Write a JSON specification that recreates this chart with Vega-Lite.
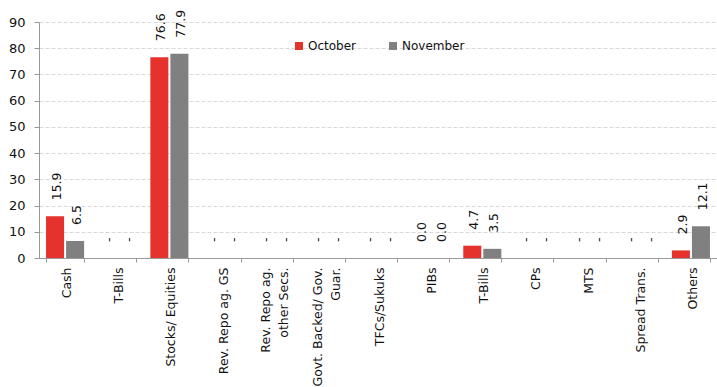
{
  "$schema": "https://vega.github.io/schema/vega-lite/v6.json",
  "width": 678,
  "height": 236,
  "autosize": {"type": "none"},
  "padding": {"left": 39, "top": 22, "right": 0, "bottom": 129},
  "background": "white",
  "data": {
    "values": [
      {"cat": "Cash", "series": "October", "value": 15.9, "label": "15.9"},
      {"cat": "Cash", "series": "November", "value": 6.5, "label": "6.5"},
      {"cat": "T-Bills", "series": "October", "value": 0, "label": "-"},
      {"cat": "T-Bills", "series": "November", "value": 0, "label": "-"},
      {"cat": "Stocks/ Equities", "series": "October", "value": 76.6, "label": "76.6"},
      {"cat": "Stocks/ Equities", "series": "November", "value": 77.9, "label": "77.9"},
      {"cat": "Rev. Repo ag. GS", "series": "October", "value": 0, "label": "-"},
      {"cat": "Rev. Repo ag. GS", "series": "November", "value": 0, "label": "-"},
      {"cat": "Rev. Repo ag.|other Secs.", "series": "October", "value": 0, "label": "-"},
      {"cat": "Rev. Repo ag.|other Secs.", "series": "November", "value": 0, "label": "-"},
      {"cat": "Govt. Backed/ Gov.|Guar.", "series": "October", "value": 0, "label": "-"},
      {"cat": "Govt. Backed/ Gov.|Guar.", "series": "November", "value": 0, "label": "-"},
      {"cat": "TFCs/Sukuks", "series": "October", "value": 0, "label": "-"},
      {"cat": "TFCs/Sukuks", "series": "November", "value": 0, "label": "-"},
      {"cat": "PIBs", "series": "October", "value": 0, "label": "0.0"},
      {"cat": "PIBs", "series": "November", "value": 0, "label": "0.0"},
      {"cat": "T-Bills ", "series": "October", "value": 4.7, "label": "4.7"},
      {"cat": "T-Bills ", "series": "November", "value": 3.5, "label": "3.5"},
      {"cat": "CPs", "series": "October", "value": 0, "label": "-"},
      {"cat": "CPs", "series": "November", "value": 0, "label": "-"},
      {"cat": "MTS", "series": "October", "value": 0, "label": "-"},
      {"cat": "MTS", "series": "November", "value": 0, "label": "-"},
      {"cat": "Spread Trans.", "series": "October", "value": 0, "label": "-"},
      {"cat": "Spread Trans.", "series": "November", "value": 0, "label": "-"},
      {"cat": "Others", "series": "October", "value": 2.9, "label": "2.9"},
      {"cat": "Others", "series": "November", "value": 12.1, "label": "12.1"}
    ]
  },
  "encoding": {
    "x": {
      "field": "cat",
      "type": "nominal",
      "sort": null,
      "scale": {"paddingInner": 0.27, "paddingOuter": 0.135},
      "axis": {
        "title": null,
        "labelAngle": 270,
        "labelAlign": "right",
        "labelBaseline": "middle",
        "labelExpr": "split(trim(datum.label), '|')",
        "labelLineHeight": 18,
        "labelOffset": {"condition": {"test": "indexof(datum.label, '|') >= 0", "value": -8}, "value": 1.5},
        "labelFont": "DejaVu Sans",
        "labelFontSize": 12.5,
        "labelColor": "#111111",
        "labelPadding": 5,
        "tickBand": "extent",
        "tickSize": 4,
        "tickColor": "#999999",
        "domainColor": "#999999",
        "grid": false
      }
    },
    "xOffset": {
      "field": "series",
      "type": "nominal",
      "sort": ["October", "November"],
      "scale": {"paddingInner": 0.1}
    },
    "y": {
      "field": "value",
      "type": "quantitative",
      "scale": {"domain": [0, 90]},
      "axis": {
        "title": null,
        "values": [0, 10, 20, 30, 40, 50, 60, 70, 80, 90],
        "labelFont": "DejaVu Sans",
        "labelFontSize": 13,
        "labelColor": "#111111",
        "labelPadding": 9,
        "tickSize": 5,
        "tickColor": "#999999",
        "domainColor": "#999999",
        "gridColor": "#d9d9d9",
        "gridDash": [4, 2]
      }
    }
  },
  "layer": [
    {
      "mark": {"type": "bar"},
      "encoding": {
        "color": {
          "field": "series",
          "type": "nominal",
          "sort": ["October", "November"],
          "scale": {"domain": ["October", "November"], "range": ["#e5322d", "#808080"]},
          "legend": {
            "title": null,
            "orient": "none",
            "direction": "horizontal",
            "legendX": 254,
            "legendY": 18,
            "symbolType": "square",
            "symbolSize": 64,
            "symbolStrokeWidth": 0,
            "labelFont": "DejaVu Sans",
            "labelFontSize": 12,
            "labelColor": "#111111",
            "labelOffset": 3,
            "columnPadding": 30,
            "padding": 0
          }
        }
      }
    },
    {
      "mark": {
        "type": "text",
        "angle": 270,
        "align": "left",
        "baseline": "middle",
        "dx": 16,
        "dy": 2,
        "font": "DejaVu Sans",
        "fontSize": 12.5,
        "color": "#111111"
      },
      "encoding": {"text": {"field": "label"}}
    }
  ],
  "config": {"view": {"stroke": null}}
}
